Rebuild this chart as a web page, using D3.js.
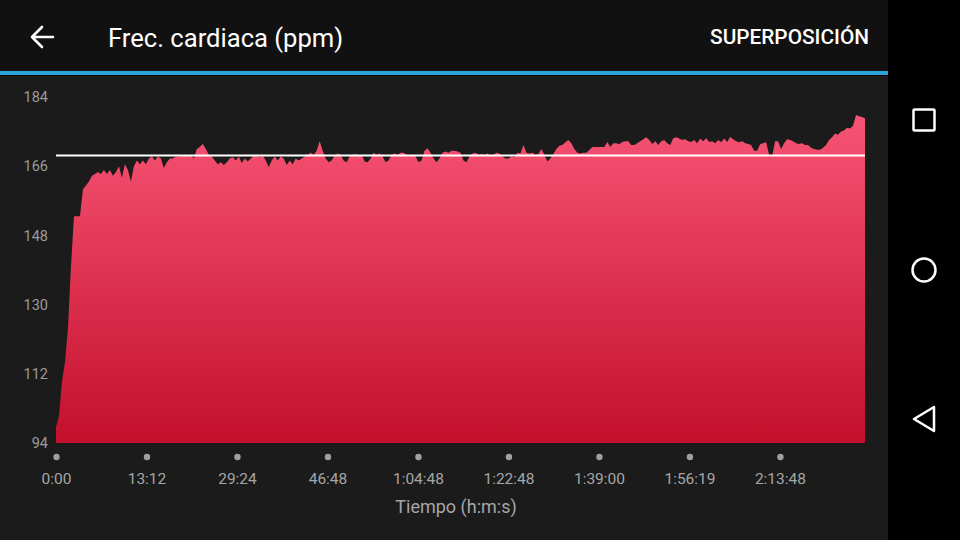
<!DOCTYPE html>
<html><head><meta charset="utf-8">
<script src="https://cdn.jsdelivr.net/npm/d3@7"></script>
<style>
html,body{margin:0;padding:0;background:#000;}
svg{display:block;font-family:Roboto,"Noto Sans",sans-serif;}
</style></head>
<body>
<svg id="chart" width="960" height="540"></svg>
<script>
// ---- data ----
const title = "Frec. cardiaca (ppm)";
const actionLabel = "SUPERPOSICIÓN";
const xAxisTitle = "Tiempo (h:m:s)";
const yTicks = [94, 112, 130, 148, 166, 184];
const xTickLabels = ["0:00","13:12","29:24","46:48","1:04:48","1:22:48","1:39:00","1:56:19","2:13:48"];
const axisSpan = 8.94; // chart length expressed in tick intervals
const averageHR = 168.8;
const heartRate = [
 98,101,110,115,124,140,153,153,153,160,161,162,163.5,164,164.5,164,165,164,165,163.5,
 164.5,166,163,166.5,165,162,166,167.5,166.5,167.5,166.5,168,168.5,167.5,168.5,168,165.5,167,168,168,
 168.5,168.5,168.7,168.7,168.5,169,168,170.5,171,171.8,170.5,169,168.5,167.5,166.5,167,166.3,167,168,168.3,
 167.5,168.5,166.8,168,167.2,168,168.8,169,168.3,168.8,167.5,165.8,167.5,168.5,167.5,168.5,168,166.3,167.5,166.5,
 168,167.5,168,168.5,169,169.5,169,170,172.5,170,168,167,167.5,168.8,169.3,169,167.5,167,168.5,169,
 169.2,168.8,169,167.2,167,168,169.5,169,169.3,168.5,167,167.5,169,169.3,169,169.5,169.5,169,168.5,169,
 168.5,167,167.5,170,170.7,169.5,168,167,168,169.5,169.8,169.5,170,170,169.8,169.5,167.5,167,168.5,169.3,
 169.5,169,169.2,169,169.3,168.8,169,169.5,169.3,168.5,168,168,168.5,168.3,169.5,169.3,171.5,169.5,169.3,169.5,
 169,169.2,170.5,169,167.2,168,169.2,170.5,171.3,171.5,172.2,172.8,172,170.5,169.5,169.3,169.5,169.5,170.2,171,
 171,171,171,171,172.3,171,172,172,171.7,172.3,172.5,172.5,171.5,171.5,172,172.5,173,173.5,172.8,171.8,
 172.5,171.5,172.5,172.8,172,171.5,173.3,173.5,173.2,172.8,173,172.5,172.3,172.8,172,173.2,172.5,173.3,172.3,172.5,
 172,172.8,172.2,173.2,172.3,173.6,173,172.5,172.2,172.5,172,171.8,171.5,170,170,171.7,172,172.2,169,168.5,
 172.5,172.5,170.5,172,173,172.8,172.5,172,171.8,172,171.5,171.5,170.8,170.5,170.3,170.3,170.8,171.5,172.8,173.5,
 174.5,174.2,175,175.3,176,175.8,176.5,179.3,179,178.8,178.5
];

// ---- layout ----
const svg = d3.select("#chart");
const W = 960, H = 540;

// backgrounds
svg.append("rect").attr("x",0).attr("y",0).attr("width",W).attr("height",H).attr("fill","#000");
svg.append("rect").attr("x",0).attr("y",76).attr("width",888).attr("height",H-76).attr("fill","#1b1b1b");
svg.append("rect").attr("x",0).attr("y",0).attr("width",888).attr("height",72).attr("fill","#111111");
svg.append("rect").attr("x",0).attr("y",71).attr("width",888).attr("height",4).attr("fill","#2ba3d8");

// app bar
svg.append("path").attr("d","M53,37 H32 M42,27 L32,37 L42,47")
  .attr("fill","none").attr("stroke","#fff").attr("stroke-width",2.6).attr("stroke-linecap","round").attr("stroke-linejoin","round");
svg.append("text").attr("x",108).attr("y",47).attr("fill","#fff").attr("font-size",25.6).text(title);
svg.append("text").attr("x",869).attr("y",44).attr("fill","#fff").attr("font-size",20.8).attr("font-weight",500)
  .attr("text-anchor","end").text(actionLabel);

// nav bar icons
svg.append("rect").attr("x",913.5).attr("y",109.5).attr("width",21).attr("height",21).attr("rx",1)
  .attr("fill","none").attr("stroke","#fff").attr("stroke-width",2.5);
svg.append("circle").attr("cx",924).attr("cy",270).attr("r",11.5)
  .attr("fill","none").attr("stroke","#fff").attr("stroke-width",2.5);
svg.append("path").attr("d","M934,407 L914,419 L934,431 Z")
  .attr("fill","none").attr("stroke","#fff").attr("stroke-width",2.5).attr("stroke-linejoin","round");

// scales
const x = d3.scaleLinear().domain([0, axisSpan]).range([56, 865]);
const y = d3.scaleLinear().domain([94, 184]).range([443, 97]);
const n = heartRate.length;
const xi = i => x(i * axisSpan / (n - 1));

// gradient
const defs = svg.append("defs");
const grad = defs.append("linearGradient").attr("id","hrGrad")
  .attr("gradientUnits","userSpaceOnUse").attr("x1",0).attr("x2",0).attr("y1",y(184)).attr("y2",y(94));
grad.append("stop").attr("offset","0%").attr("stop-color","#f7577a");
grad.append("stop").attr("offset","20%").attr("stop-color","#f04a6a");
grad.append("stop").attr("offset","100%").attr("stop-color","#c30f2c");

// area
const area = d3.area()
  .x((d,i) => xi(i))
  .y0(y(94))
  .y1(d => y(d))
  .curve(d3.curveLinear);
svg.append("path").datum(heartRate).attr("d", area).attr("fill","url(#hrGrad)");

// average line
svg.append("line").attr("x1",x(0)).attr("x2",x(axisSpan))
  .attr("y1",y(averageHR)).attr("y2",y(averageHR))
  .attr("stroke","#ffffff").attr("stroke-width",2);

// y axis labels
const yAxis = d3.axisLeft(y).tickValues(yTicks).tickSize(0).tickPadding(0);
const gy = svg.append("g").attr("transform","translate(48,0)").call(yAxis);
gy.select(".domain").remove();
gy.selectAll("text").attr("fill","#9b9b9b").attr("font-size",14.5).attr("font-family","Roboto,sans-serif");

// x axis: dots + labels
const xAxis = d3.axisBottom(x).tickValues(d3.range(xTickLabels.length))
  .tickFormat(i => xTickLabels[i]).tickSize(0).tickPadding(0);
const gx = svg.append("g").attr("transform","translate(0,470)").call(xAxis);
gx.select(".domain").remove();
gx.selectAll("text").attr("fill","#a6a6a6").attr("font-size",15.5).attr("font-family","Roboto,sans-serif").attr("dy","0.35em").attr("y",9);
gx.selectAll(".tick").append("circle").attr("cx",0).attr("cy",-13).attr("r",3.2).attr("fill","#a0a0a0");

svg.append("text").attr("x",456).attr("y",513).attr("text-anchor","middle")
  .attr("fill","#a6a6a6").attr("font-size",18).text(xAxisTitle);
</script>
</body></html>
